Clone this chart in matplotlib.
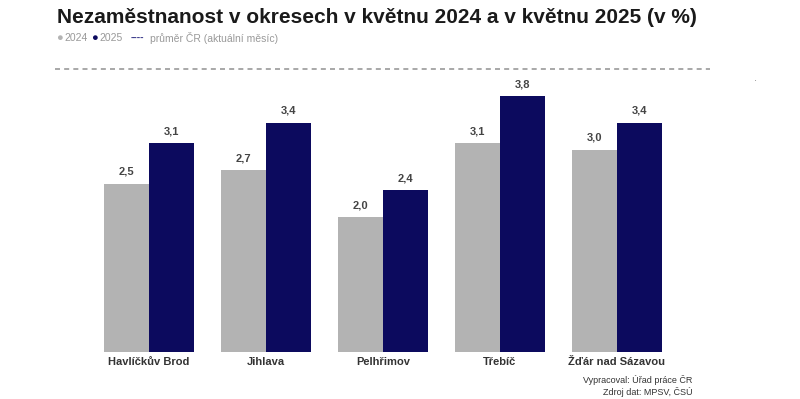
import matplotlib.pyplot as plt
import numpy as np

plt.rcParams['font.family'] = ['Liberation Sans', 'DejaVu Sans']

# Data
okresy = ['Havlíčkův Brod', 'Jihlava', 'Pelhřimov', 'Třebíč', 'Žďár nad Sázavou']
val_2024 = [2.5, 2.7, 2.0, 3.1, 3.0]
val_2025 = [3.1, 3.4, 2.4, 3.8, 3.4]
prumer_cr = 4.2

c2024 = '#b3b3b3'
c2025 = '#0c0a5e'

fig = plt.figure(figsize=(8, 3.99), dpi=100)
ax = fig.add_axes([0.069, 0.118, 0.819, 0.709])

x = np.arange(len(okresy))
w = 0.385
b1 = ax.bar(x - w / 2, val_2024, w, color=c2024)
b2 = ax.bar(x + w / 2, val_2025, w, color=c2025)

for bars, vals in ((b1, val_2024), (b2, val_2025)):
    for r, v in zip(bars, vals):
        ax.annotate(f'{v:.1f}'.replace('.', ','), (r.get_x() + r.get_width() / 2, v),
                    xytext=(0, 5), textcoords='offset points', ha='center', va='bottom',
                    fontsize=8, fontweight='bold', color='#444444')

# average line
ax.axhline(prumer_cr, color='#999999', linestyle=(0, (3, 2.5)), linewidth=1.2, clip_on=False)

ax.set_xlim(-0.8, 4.8)
ax.set_ylim(0, 4.2)
ax.set_xticks(x)
ax.set_xticklabels(okresy, fontsize=8, fontweight='bold', color='#333333')
ax.tick_params(axis='x', length=0, pad=4)
ax.set_yticks([])
for s in ax.spines.values():
    s.set_visible(False)

fig.text(0.071, 0.957, 'Nezaměstnanost v okresech v květnu 2024 a v květnu 2025 (v %)',
         fontsize=15, fontweight='bold', color='#1a1a1a', va='center')

# legend row
ly = 0.905
fig.text(0.070, ly, '●', fontsize=8, color=c2024, va='center')
fig.text(0.080, ly, '2024', fontsize=7.5, color='#999999', va='center')
fig.text(0.114, ly, '●', fontsize=8, color=c2025, va='center')
fig.text(0.124, ly, '2025', fontsize=7.5, color='#999999', va='center')
fig.text(0.163, ly, '----', fontsize=7.5, color='#3a3a8a', va='center', fontweight='bold')
fig.text(0.188, ly, 'průměr ČR (aktuální měsíc)', fontsize=7.5, color='#999999', va='center')

fig.text(0.944, 0.805, '.', fontsize=8, color='#888888', ha='center', va='center')

fig.text(0.866, 0.033, 'Vypracoval: Úřad práce ČR\nZdroj dat: MPSV, ČSÚ', fontsize=6.5,
         color='#333333', ha='right', va='center', linespacing=1.3)

fig.savefig('out.png', dpi=100)
